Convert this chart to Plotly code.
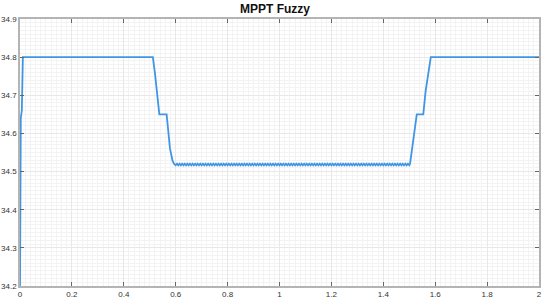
import plotly.graph_objects as go

# start-up and fall from the first plateau
t_head = [0.0, 0.003, 0.007, 0.011, 0.512, 0.520, 0.537, 0.565, 0.578, 0.588, 0.594]
y_head = [34.2, 34.64, 34.66, 34.8, 34.8, 34.758, 34.65, 34.65, 34.56, 34.528, 34.52]

# ripple on the lower plateau
t_mid = [0.600, 0.605, 0.610, 0.615, 0.620, 0.625, 0.630, 0.635, 0.640, 0.645,
         0.650, 0.655, 0.660, 0.665, 0.670, 0.675, 0.680, 0.685, 0.690, 0.695,
         0.700, 0.705, 0.710, 0.715, 0.720, 0.725, 0.730, 0.735, 0.740, 0.745,
         0.750, 0.755, 0.760, 0.765, 0.770, 0.775, 0.780, 0.785, 0.790, 0.795,
         0.800, 0.805, 0.810, 0.815, 0.820, 0.825, 0.830, 0.835, 0.840, 0.845,
         0.850, 0.855, 0.860, 0.865, 0.870, 0.875, 0.880, 0.885, 0.890, 0.895,
         0.900, 0.905, 0.910, 0.915, 0.920, 0.925, 0.930, 0.935, 0.940, 0.945,
         0.950, 0.955, 0.960, 0.965, 0.970, 0.975, 0.980, 0.985, 0.990, 0.995,
         1.000, 1.005, 1.010, 1.015, 1.020, 1.025, 1.030, 1.035, 1.040, 1.045,
         1.050, 1.055, 1.060, 1.065, 1.070, 1.075, 1.080, 1.085, 1.090, 1.095,
         1.100, 1.105, 1.110, 1.115, 1.120, 1.125, 1.130, 1.135, 1.140, 1.145,
         1.150, 1.155, 1.160, 1.165, 1.170, 1.175, 1.180, 1.185, 1.190, 1.195,
         1.200, 1.205, 1.210, 1.215, 1.220, 1.225, 1.230, 1.235, 1.240, 1.245,
         1.250, 1.255, 1.260, 1.265, 1.270, 1.275, 1.280, 1.285, 1.290, 1.295,
         1.300, 1.305, 1.310, 1.315, 1.320, 1.325, 1.330, 1.335, 1.340, 1.345,
         1.350, 1.355, 1.360, 1.365, 1.370, 1.375, 1.380, 1.385, 1.390, 1.395,
         1.400, 1.405, 1.410, 1.415, 1.420, 1.425, 1.430, 1.435, 1.440, 1.445,
         1.450, 1.455, 1.460, 1.465, 1.470, 1.475, 1.480, 1.485, 1.490, 1.495,
         1.500]
y_mid = [
    34.5165, 34.5205, 34.5165, 34.5205, 34.5165, 34.5205, 34.5165, 34.5205, 34.5165, 34.5205,
    34.5165, 34.5205, 34.5165, 34.5205, 34.5165, 34.5205, 34.5165, 34.5205, 34.5165, 34.5205,
    34.5165, 34.5205, 34.5165, 34.5205, 34.5165, 34.5205, 34.5165, 34.5205, 34.5165, 34.5205,
    34.5165, 34.5205, 34.5165, 34.5205, 34.5165, 34.5205, 34.5165, 34.5205, 34.5165, 34.5205,
    34.5165, 34.5205, 34.5165, 34.5205, 34.5165, 34.5205, 34.5165, 34.5205, 34.5165, 34.5205,
    34.5165, 34.5205, 34.5165, 34.5205, 34.5165, 34.5205, 34.5165, 34.5205, 34.5165, 34.5205,
    34.5165, 34.5205, 34.5165, 34.5205, 34.5165, 34.5205, 34.5165, 34.5205, 34.5165, 34.5205,
    34.5165, 34.5205, 34.5165, 34.5205, 34.5165, 34.5205, 34.5165, 34.5205, 34.5165, 34.5205,
    34.5165, 34.5205, 34.5165, 34.5205, 34.5165, 34.5205, 34.5165, 34.5205, 34.5165, 34.5205,
    34.5165, 34.5205, 34.5165, 34.5205, 34.5165, 34.5205, 34.5165, 34.5205, 34.5165, 34.5205,
    34.5165, 34.5205, 34.5165, 34.5205, 34.5165, 34.5205, 34.5165, 34.5205, 34.5165, 34.5205,
    34.5165, 34.5205, 34.5165, 34.5205, 34.5165, 34.5205, 34.5165, 34.5205, 34.5165, 34.5205,
    34.5165, 34.5205, 34.5165, 34.5205, 34.5165, 34.5205, 34.5165, 34.5205, 34.5165, 34.5205,
    34.5165, 34.5205, 34.5165, 34.5205, 34.5165, 34.5205, 34.5165, 34.5205, 34.5165, 34.5205,
    34.5165, 34.5205, 34.5165, 34.5205, 34.5165, 34.5205, 34.5165, 34.5205, 34.5165, 34.5205,
    34.5165, 34.5205, 34.5165, 34.5205, 34.5165, 34.5205, 34.5165, 34.5205, 34.5165, 34.5205,
    34.5165, 34.5205, 34.5165, 34.5205, 34.5165, 34.5205, 34.5165, 34.5205, 34.5165, 34.5205,
    34.5165, 34.5205, 34.5165, 34.5205, 34.5165, 34.5205, 34.5165, 34.5205, 34.5165, 34.5205,
    34.5165]

# rise back to the upper plateau
t_tail = [1.503, 1.516, 1.529, 1.554, 1.563, 1.583, 2.0]
y_tail = [34.52, 34.58, 34.65, 34.65, 34.71, 34.8, 34.8]

x_ticks = [0, 0.2, 0.4, 0.6, 0.8, 1, 1.2, 1.4, 1.6, 1.8, 2]
x_labels = ['0', '0.2', '0.4', '0.6', '0.8', '1', '1.2', '1.4', '1.6', '1.8', '2']
y_ticks = [34.2, 34.3, 34.4, 34.5, 34.6, 34.7, 34.8, 34.9]
y_labels = ['34.2', '34.3', '34.4', '34.5', '34.6', '34.7', '34.8', '34.9']

fig = go.Figure()
fig.add_trace(go.Scatter(
    x=t_head + t_mid + t_tail,
    y=y_head + y_mid + y_tail,
    mode='lines',
    line=dict(color='#4096e4', width=1.8),
    showlegend=False,
))

axis_common = dict(
    showline=True, linecolor='#b4b4b4', linewidth=1.5, mirror='allticks',
    ticks='inside', ticklen=4, tickcolor='#666666',
    showgrid=True, gridcolor='#e8e8e8', gridwidth=1,
    zeroline=False, automargin=False,
    tickfont=dict(family='Liberation Sans, Arial', size=8, color='#333333'),
)

fig.update_xaxes(range=[-1e-6, 2.000001], tickvals=x_ticks, ticktext=x_labels,
                 minor=dict(dtick=0.02, showgrid=True, gridcolor='#f3f3f3', ticks=''),
                 **axis_common)
fig.update_yaxes(range=[34.2, 34.9], tickvals=y_ticks, ticktext=y_labels,
                 minor=dict(dtick=0.01, showgrid=True, gridcolor='#f3f3f3', ticks=''),
                 **axis_common)

fig.update_layout(
    width=550, height=300,
    title=dict(text='<b>MPPT Fuzzy</b>', x=0.5, xanchor='center', y=0.97, yanchor='middle',
               font=dict(family='Liberation Sans, Arial', size=12, color='#111111')),
    plot_bgcolor='white', paper_bgcolor='white',
    margin=dict(l=20, r=11, t=19, b=14),
)

# drop the page's default body margin so the figure sits at the window's corner
fig.write_html('out.html', config={'displayModeBar': False},
               post_script="document.body.style.margin='0';")
